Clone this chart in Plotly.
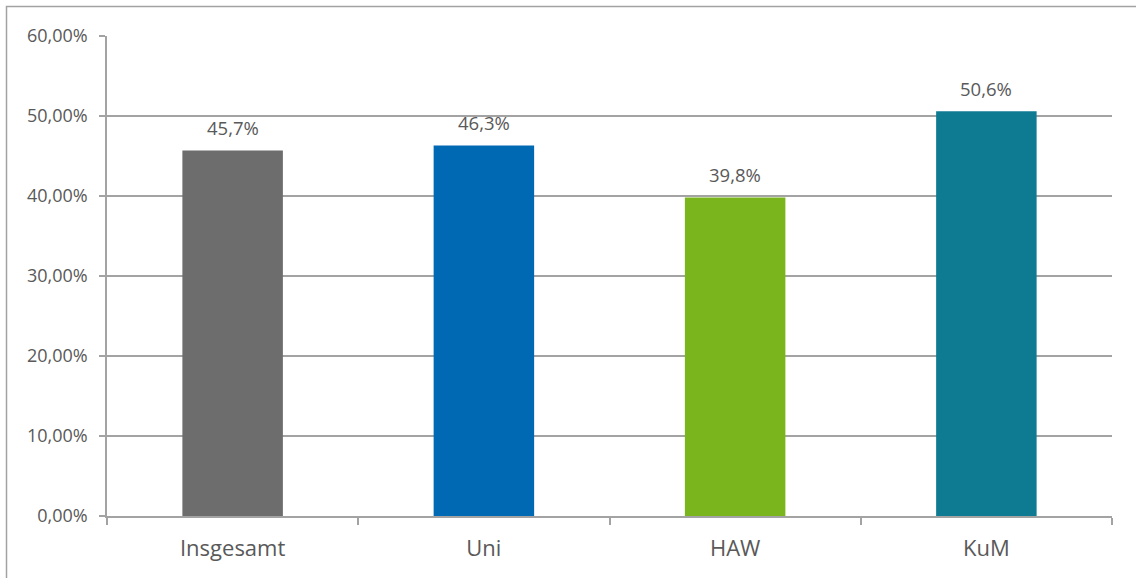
import plotly.graph_objects as go

categories = ["Insgesamt", "Uni", "HAW", "KuM"]
values = [45.7, 46.3, 39.8, 50.6]
colors = ["#6d6d6d", "#0069b4", "#7ab51d", "#0e7b93"]
y_ticks = [0, 10, 20, 30, 40, 50, 60]
y_tick_text = [f"{t:.2f}".replace(".", ",") + "%" for t in y_ticks]

W, H = 1136, 578
L, R, T, B = 107, 24, 36, 62
pw, ph = W - L - R, H - T - B

def px_x(p):
    return (p - L) / pw

def px_y(p):
    return (H - B - p) / ph

grid = "#a3a3a3"
txt = "#595959"

fig = go.Figure()
fig.add_trace(go.Bar(x=categories, y=values, marker_color=colors, marker_line_width=0,
                     width=0.4, hoverinfo="skip"))

for c, v in zip(categories, values):
    fig.add_annotation(x=c, y=v, text=f"{v:.1f}".replace(".", ",") + "%",
                       showarrow=False, yshift=23, yanchor="middle",
                       font=dict(family="Open Sans", size=18.5, color=txt))

fig.add_shape(type="rect", xref="paper", yref="paper",
              x0=px_x(6.5), x1=px_x(1160), y0=px_y(600), y1=px_y(6.5),
              line=dict(color=grid, width=1.5), fillcolor="rgba(0,0,0,0)", layer="below")

fig.update_layout(
    width=W, height=H,
    margin=dict(l=L, r=R, t=T, b=B),
    paper_bgcolor="white", plot_bgcolor="white",
    showlegend=False,
    xaxis=dict(showline=True, linecolor=grid, linewidth=1.5,
               ticks="outside", tickson="boundaries", ticklen=7, tickcolor=grid, tickwidth=1.5,
               ticklabelstandoff=12,
               tickfont=dict(family="Open Sans", size=22, color=txt),
               showgrid=False),
    yaxis=dict(range=[0, 60], tickmode="array", tickvals=y_ticks, ticktext=y_tick_text,
               showline=True, linecolor=grid, linewidth=1.5,
               ticks="outside", ticklen=6, tickcolor=grid, tickwidth=1.5,
               showgrid=True, gridcolor=grid, gridwidth=1.5, zeroline=False,
               ticklabelstandoff=8,
               tickfont=dict(family="Open Sans", size=18, color=txt)),
)

fig.write_html("out.html")
